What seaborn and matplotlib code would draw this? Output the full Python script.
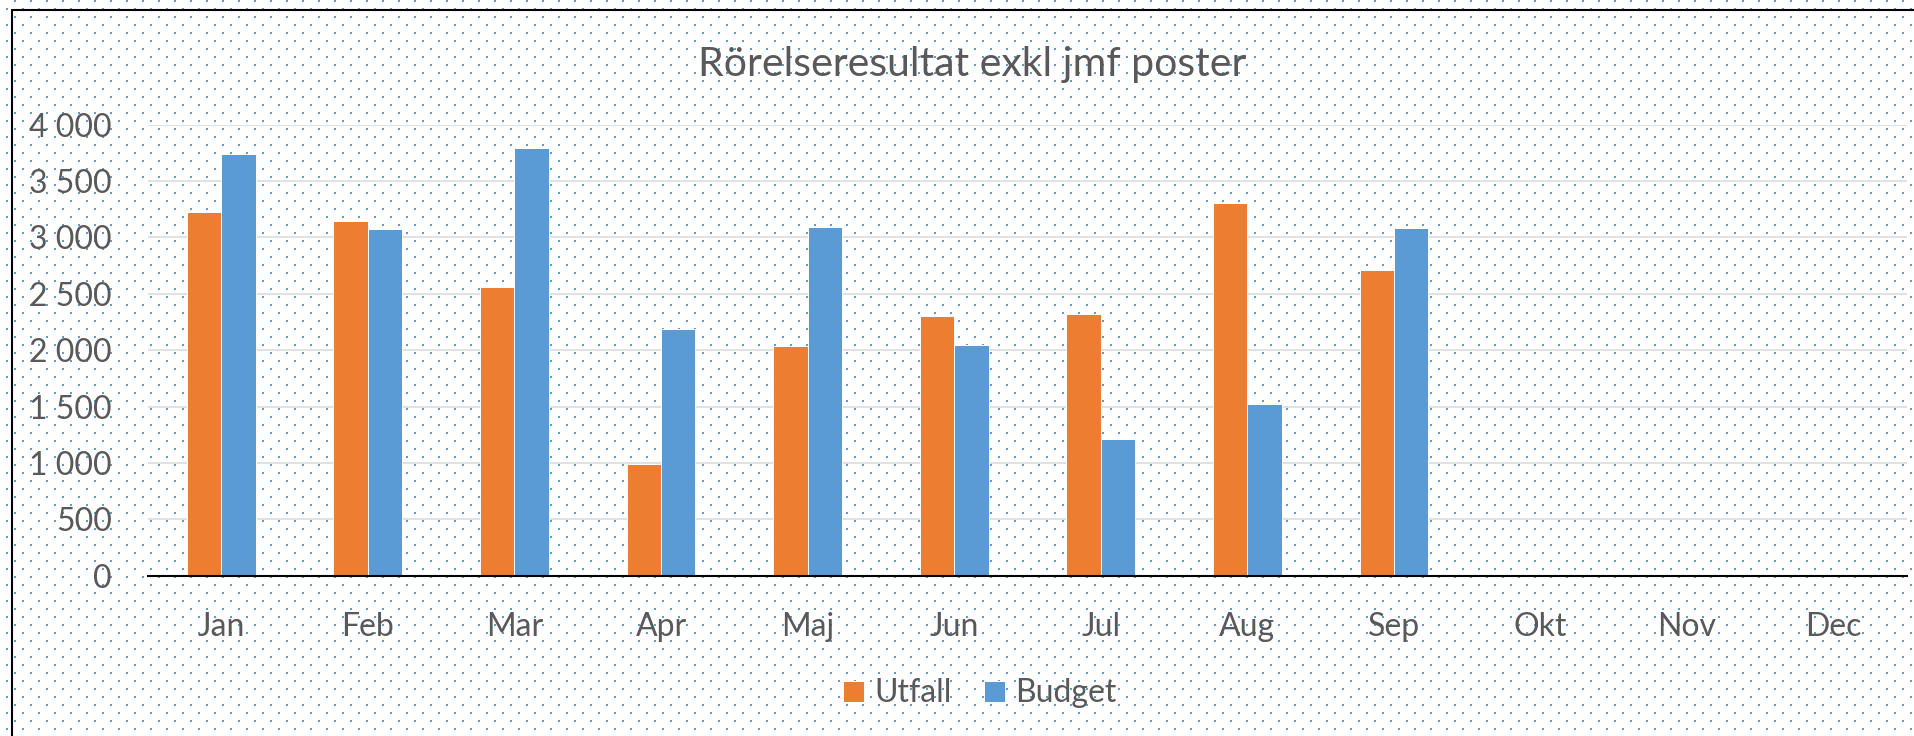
import numpy as np
import pandas as pd
import matplotlib
matplotlib.use("Agg")
from matplotlib import pyplot as plt
from matplotlib.lines import Line2D
from matplotlib.ticker import FuncFormatter
import seaborn as sns

months = ["Jan", "Feb", "Mar", "Apr", "Maj", "Jun", "Jul", "Aug", "Sep", "Okt", "Nov", "Dec"]
utfall = [3230, 3150, 2560, 995, 2040, 2305, 2325, 3305, 2710, np.nan, np.nan, np.nan]
budget = [3740, 3075, 3790, 2185, 3095, 2050, 1210, 1520, 3085, np.nan, np.nan, np.nan]
series = ["Utfall", "Budget"]
colors = ["#ED7D31", "#5B9BD5"]
yticks = [0, 500, 1000, 1500, 2000, 2500, 3000, 3500, 4000]
title = "Rörelseresultat exkl jmf poster"

df = pd.DataFrame({
    "Månad": months * 2,
    "Värde": utfall + budget,
    "Serie": [series[0]] * len(months) + [series[1]] * len(months),
}).dropna()

sns.set_theme(style="white")
plt.rcParams["font.family"] = ["Lato", "DejaVu Sans"]
text_color = "#595959"

W, H = 1914, 736
fig = plt.figure(figsize=(W / 100, H / 100), dpi=100)
fig.patch.set_facecolor("white")

# dotted background like the Excel chart area fill
yy, xx = np.mgrid[0:H, 0:W]
shift = ((yy // 8) % 2) * 8
dots = ((yy % 8) < 2) & (((xx + shift) % 16) >= 14)
bg = np.ones((H, W, 3))
bg[dots] = [91 / 255, 155 / 255, 213 / 255]
fig.figimage(bg, xo=0, yo=0, zorder=-10, origin="upper")

ax = fig.add_axes([148 / W, 1 - 575.7 / H, (1907 - 148) / W, 451 / H])
ax.set_facecolor("none")

sns.barplot(data=df, x="Månad", y="Värde", hue="Serie", order=months,
            hue_order=series, palette=colors, saturation=1, width=0.47,
            edgecolor="white", linewidth=0.7, ax=ax, zorder=3)

ax.set_ylim(0, 4000)
ax.set_yticks(yticks)
ax.yaxis.set_major_formatter(FuncFormatter(lambda v, p: f"{int(v):,}".replace(",", " ")))
ax.set_xlabel("")
ax.set_ylabel("")
ax.grid(axis="y", color="#D9D9D9", linewidth=1.1, zorder=0)
ax.set_axisbelow(True)
for s in ["left", "right", "top"]:
    ax.spines[s].set_visible(False)
ax.spines["bottom"].set_color("black")
ax.spines["bottom"].set_linewidth(1.5)
ax.spines["bottom"].set_zorder(4)
ax.tick_params(axis="y", length=0, pad=26, labelsize=23, labelcolor=text_color)
ax.tick_params(axis="x", length=0, pad=26, labelsize=23, labelcolor=text_color)

fig.text(972 / W, 1 - 76 / H, title, ha="center", va="baseline",
         fontsize=29.5, color=text_color)

sns.move_legend(ax, "center", bbox_to_anchor=(980 / W, 1 - 693.5 / H),
                bbox_transform=fig.transFigure, ncol=2, frameon=False, title=None,
                fontsize=23, labelcolor=text_color, handlelength=0.66,
                handleheight=0.66, handletextpad=0.33, columnspacing=1.0)

# chart border (left and top edges visible in the crop)
fig.add_artist(Line2D([12 / W, 12 / W], [0, 1 - 10 / H], transform=fig.transFigure,
                      color="black", linewidth=1.5))
fig.add_artist(Line2D([12 / W, 1], [1 - 10 / H, 1 - 10 / H], transform=fig.transFigure,
                      color="black", linewidth=1.5))

fig.savefig("out.png", dpi=100)
